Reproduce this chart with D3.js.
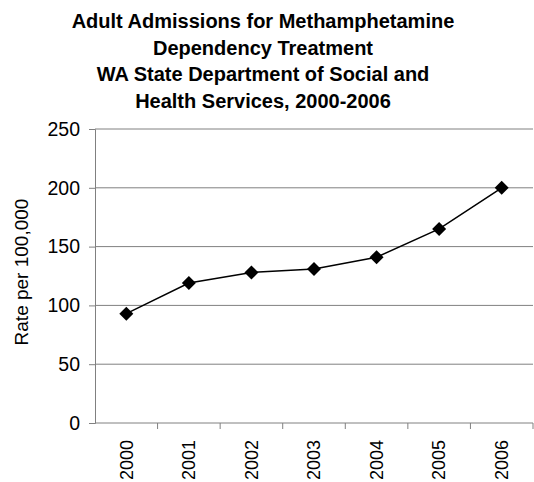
<!DOCTYPE html>
<html>
<head>
<meta charset="utf-8">
<script src="https://cdn.jsdelivr.net/npm/d3@7"></script>
<style>
    body { margin: 0; background: #fff; }
    svg { display: block; font-family: Arial, "Liberation Sans", sans-serif; }
</style>
</head>
<body>
<svg id="chart"></svg>
<script>
    // chart data
    var years = ['2000', '2001', '2002', '2003', '2004', '2005', '2006'];
    var rates = [93, 119, 128, 131, 141, 165, 200];
    var yTicks = [0, 50, 100, 150, 200, 250];
    var titleLines = [
        'Adult Admissions for Methamphetamine',
        'Dependency Treatment',
        'WA State Department of Social and',
        'Health Services, 2000-2006'
    ];

    var config = {
        width: 534,
        height: 482,
        left: 95,
        right: 533,
        top: 129,
        bottom: 423
    };

    var svg = d3.select('#chart')
        .attr('width', config.width)
        .attr('height', config.height);

    /**
     * Title, four centred lines
     */
    svg.append('g').attr('class', 'title')
        .selectAll('text')
        .data(titleLines).enter()
        .append('text')
        .attr('x', 263)
        .attr('y', function (d, i) { return 28 + i * 26.7; })
        .attr('text-anchor', 'middle')
        .style('font-size', '20px')
        .style('font-weight', 'bold')
        .text(function (d) { return d; });

    var x = d3.scaleBand()
        .domain(years)
        .range([config.left, config.right]);

    var y = d3.scaleLinear()
        .domain([0, 250])
        .range([config.bottom, config.top]);

    // gridlines
    svg.append('g').attr('class', 'grid')
        .selectAll('line')
        .data(yTicks.filter(function (d) { return d > 0; })).enter()
        .append('line')
        .attr('x1', config.left)
        .attr('x2', config.right)
        .attr('y1', function (d) { return y(d); })
        .attr('y2', function (d) { return y(d); })
        .attr('stroke', '#808080')
        .attr('stroke-width', 1);

    // y axis
    var yAxis = svg.append('g')
        .attr('transform', 'translate(' + config.left + ',0)')
        .call(d3.axisLeft(y).tickValues(yTicks).tickSize(6).tickPadding(9));

    // x axis, ticks on the band edges
    var xAxis = svg.append('g')
        .attr('transform', 'translate(0,' + config.bottom + ')');

    xAxis.append('line')
        .attr('x1', config.left).attr('x2', config.right)
        .attr('y1', 0).attr('y2', 0);

    xAxis.selectAll('.edge')
        .data(years).enter()
        .append('line')
        .attr('class', 'edge')
        .attr('x1', function (d) { return x(d) + x.bandwidth(); })
        .attr('x2', function (d) { return x(d) + x.bandwidth(); })
        .attr('y1', 0).attr('y2', 6);

    xAxis.selectAll('text')
        .data(years).enter()
        .append('text')
        .attr('transform', function (d) {
            return 'translate(' + (x(d) + x.bandwidth() / 2) + ',17) rotate(-90)';
        })
        .attr('dy', '0.35em')
        .attr('text-anchor', 'end')
        .style('font-size', '18px')
        .attr('fill', '#000')
        .text(function (d) { return d; });

    xAxis.selectAll('line').attr('stroke', '#808080');
    yAxis.select('.domain').attr('stroke', '#808080');
    yAxis.selectAll('.tick line').attr('stroke', '#808080');
    yAxis.selectAll('.tick text')
        .style('font-size', '19.5px')
        .attr('fill', '#000');

    // axis title
    svg.append('text')
        .attr('transform', 'translate(21,272) rotate(-90)')
        .attr('dy', '0.35em')
        .attr('text-anchor', 'middle')
        .style('font-size', '19px')
        .text('Rate per 100,000');

    // series line
    var line = d3.line()
        .x(function (d, i) { return x(years[i]) + x.bandwidth() / 2; })
        .y(function (d) { return y(d); });

    svg.append('path')
        .datum(rates)
        .attr('d', line)
        .attr('fill', 'none')
        .attr('stroke', '#000')
        .attr('stroke-width', 1.5);

    // diamond markers
    svg.append('g').attr('class', 'markers')
        .selectAll('path')
        .data(rates).enter()
        .append('path')
        .attr('transform', function (d, i) {
            return 'translate(' + (x(years[i]) + x.bandwidth() / 2) + ',' + y(d) + ')';
        })
        .attr('d', 'M0,-7L7,0L0,7L-7,0Z')
        .attr('fill', '#000');
</script>
</body>
</html>
